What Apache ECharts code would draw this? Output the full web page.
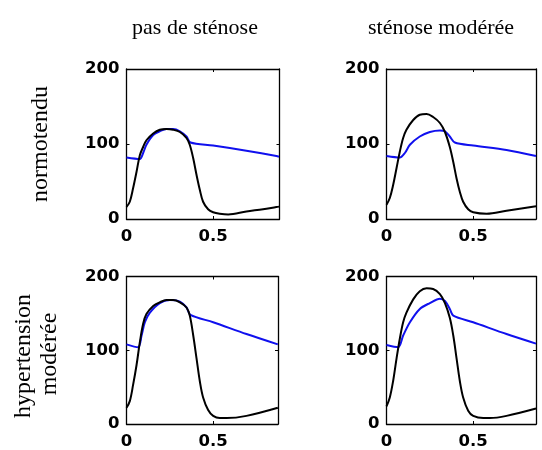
<!DOCTYPE html>
<html><head><meta charset="utf-8">
<script src="https://cdn.jsdelivr.net/npm/echarts@6/dist/echarts.min.js"></script>
<style>html,body{margin:0;padding:0;background:#fff}#c{width:542px;height:450px}</style>
</head><body><div id="c"></div>
<script>
// Column / row titles
var colTitles = ['pas de sténose', 'sténose modérée'];
var rowTitles = [['normotendu'], ['hypertension', 'modérée']];
// Tick labels
var xTicks = [0, 0.5];
var yTicks = [0, 100, 200];

// Panel 1: normotendu, pas de sténose
var t1Black = [0, .019, .038, .058, .077, .096, .115, .154, .192, .231, .269, .308, .346, .365, .385, .404, .423, .442, .471, .5, .538, .587, .692, .788, .865, .88];
var v1Black = [16, 23, 41, 63, 85, 96, 105, 114, 119, 120, 119, 116, 108, 99, 81, 59, 39, 23, 13, 9, 7, 6, 10, 13, 16, 16.5];
var t1Blue = [0, .077, .096, .115, .154, .192, .231, .269, .308, .346, .369, .5, .692, .865, .88];
var v1Blue = [82, 80, 88, 99, 112, 117, 120, 120, 117, 110, 102, 98, 91, 84, 83];

// Panel 2: normotendu, sténose modérée
var t2Black = [0, .019, .038, .058, .077, .096, .115, .154, .192, .231, .269, .308, .337, .365, .385, .404, .423, .442, .471, .5, .577, .692, .862];
var v2Black = [19, 28, 45, 68, 90, 108, 119, 132, 139, 140, 136, 128, 116, 96, 76, 54, 36, 23, 13, 9, 7, 11, 17];
var t2Blue = [0, .077, .106, .135, .192, .25, .308, .337, .365, .394, .5, .692, .862];
var v2Blue = [84, 82, 88, 99, 110, 116, 118, 117, 110, 102, 98, 92, 84];

// Panel 3: hypertension modérée, pas de sténose
var t3Black = [0, .019, .038, .058, .077, .096, .115, .154, .192, .231, .269, .308, .346, .365, .385, .404, .423, .442, .471, .5, .538, .577, .692, .873];
var v3Black = [22, 31, 53, 80, 111, 136, 149, 160, 165, 168, 168, 165, 158, 147, 120, 89, 58, 36, 19, 11, 8, 8, 11, 22];
var t3Blue = [0, .067, .087, .106, .135, .192, .25, .308, .346, .369, .5, .692, .873];
var v3Blue = [108, 104, 120, 138, 151, 164, 168, 166, 158, 148, 138, 122, 108];

// Panel 4: hypertension modérée, sténose modérée
var t4Black = [0, .019, .038, .058, .077, .096, .115, .154, .192, .231, .269, .308, .337, .365, .385, .404, .423, .442, .471, .5, .558, .596, .692, .862];
var v4Black = [24, 36, 58, 89, 116, 138, 151, 169, 180, 184, 183, 176, 164, 144, 120, 89, 58, 36, 18, 11, 8, 8, 11, 21];
var t4Blue = [0, .067, .096, .135, .192, .25, .308, .337, .365, .385, .5, .692, .862];
var v4Blue = [107, 104, 120, 138, 156, 164, 170, 167, 156, 147, 138, 122, 109];

var panels = [
  {tb: t1Black, vb: v1Black, tl: t1Blue, vl: v1Blue},
  {tb: t2Black, vb: v2Black, tl: t2Blue, vl: v2Blue},
  {tb: t3Black, vb: v3Black, tl: t3Blue, vl: v3Blue},
  {tb: t4Black, vb: v4Black, tl: t4Blue, vl: v4Blue}
];

function zip(a, b) { return a.map(function (x, i) { return [x, b[i]]; }); }

var grids = [
  {left: 126.5, top: 69, width: 153, height: 150, xmax: 0.883},
  {left: 386.5, top: 69, width: 149.5, height: 150, xmax: 0.862},
  {left: 126.5, top: 276.5, width: 151.5, height: 150, xmax: 0.874},
  {left: 386.5, top: 276.5, width: 149.5, height: 150, xmax: 0.862}
];

var lab = {fontFamily: 'DejaVu Sans', fontWeight: 'bold', fontSize: 16.5, color: '#000'};
var axLine = {show: true, onZero: false, lineStyle: {color: '#000', width: 1.3}};
var tick = {show: true, inside: true, length: 3, lineStyle: {color: '#000', width: 1}};

var option = {animation: false, backgroundColor: '#fff', grid: [], xAxis: [], yAxis: [], series: [], graphic: []};
grids.forEach(function (g, i) {
  option.grid.push({left: g.left, top: g.top, width: g.width, height: g.height, containLabel: false});
  option.xAxis.push({type: 'value', gridIndex: i, min: 0, max: g.xmax, interval: 0.5, position: 'bottom',
    axisLine: axLine, axisTick: tick, splitLine: {show: false},
    axisLabel: Object.assign({margin: 9, showMaxLabel: false, formatter: function (v) { return xTicks.indexOf(v) >= 0 ? String(v) : ''; }}, lab)});
  option.xAxis.push({type: 'value', gridIndex: i, min: 0, max: g.xmax, interval: 0.5, position: 'top',
    axisLine: axLine, axisTick: tick, splitLine: {show: false}, axisLabel: {show: false}});
  option.yAxis.push({type: 'value', gridIndex: i, min: yTicks[0], max: yTicks[yTicks.length - 1], interval: 100, position: 'left',
    axisLine: axLine, axisTick: tick, splitLine: {show: false},
    axisLabel: Object.assign({margin: 7}, lab)});
  option.yAxis.push({type: 'value', gridIndex: i, min: 0, max: 200, interval: 100, position: 'right',
    axisLine: axLine, axisTick: tick, splitLine: {show: false}, axisLabel: {show: false}});
  var p = panels[i];
  option.series.push({type: 'line', xAxisIndex: 2 * i, yAxisIndex: 2 * i, data: zip(p.tl, p.vl), showSymbol: false, smooth: 0.3,
    lineStyle: {color: '#1010ee', width: 2}, z: 2});
  option.series.push({type: 'line', xAxisIndex: 2 * i, yAxisIndex: 2 * i, data: zip(p.tb, p.vb), showSymbol: false, smooth: 0.35,
    lineStyle: {color: '#000', width: 2}, z: 3});
});

var serif = {fontFamily: 'Liberation Serif', fontSize: 22, fill: '#000', textAlign: 'center', textVerticalAlign: 'middle'};
var serifV = Object.assign({}, serif, {fontSize: 24});
option.graphic.push({type: 'text', x: 195, y: 28, style: Object.assign({text: colTitles[0]}, serif)});
option.graphic.push({type: 'text', x: 441, y: 28, style: Object.assign({text: colTitles[1]}, serif)});
option.graphic.push({type: 'text', x: 41, y: 144, rotation: Math.PI / 2, style: Object.assign({text: rowTitles[0][0]}, serifV)});
option.graphic.push({type: 'text', x: 24, y: 356, rotation: Math.PI / 2, style: Object.assign({text: rowTitles[1][0]}, serifV)});
option.graphic.push({type: 'text', x: 50, y: 354, rotation: Math.PI / 2, style: Object.assign({text: rowTitles[1][1]}, serifV)});

var chart = echarts.init(document.getElementById('c'), null, {renderer: 'canvas'});
chart.setOption(option);
</script></body></html>
